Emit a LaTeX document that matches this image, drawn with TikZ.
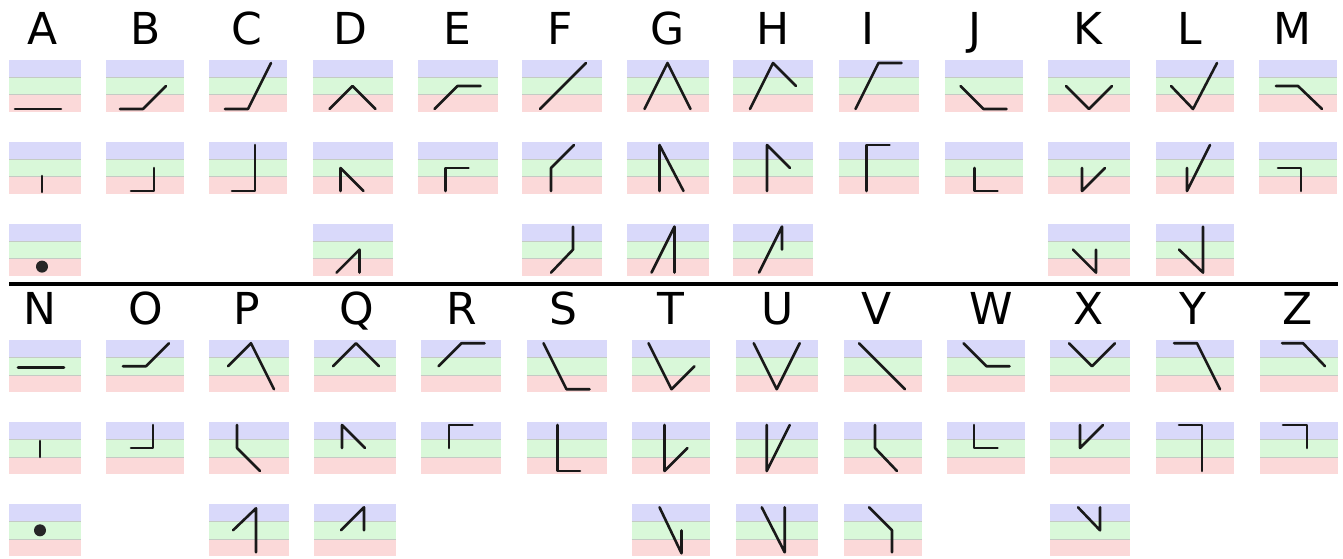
\documentclass[tikz,border=0pt]{standalone}
\usepackage{fontspec}
\newfontfamily\labelfont{DejaVu Sans}

\begin{document}
\begin{tikzpicture}[
    x={(1pt,0pt)}, y={(0pt,-1pt)},
    letter/.style={font=\labelfont\fontsize{44}{44}\selectfont, anchor=base, inner sep=0pt},
    glyph/.style={line width=2.6pt, line cap=round, line join=round, black!90},
    glyphdot/.style={fill=black!85},
  ]
    \definecolor{bandblue}{HTML}{D9D9FA}
    \definecolor{bandgreen}{HTML}{D9F8D9}
    \definecolor{bandred}{HTML}{FBD9D9}
    \definecolor{bandrule}{HTML}{C4CBC4}

    \useasboundingbox (0,0) rectangle (1343,558);

    % cell with three bands: center x, center y, half width
    \newcommand{\cellbg}[3]{%
      \begin{scope}[shift={(#1,#2)}]
        \fill[bandblue]  (-#3,-26) rectangle (#3,-8.7);
        \fill[bandgreen] (-#3,-8.7) rectangle (#3,8.7);
        \fill[bandred]   (-#3,8.7) rectangle (#3,26);
        \draw[bandrule, line width=0.8pt] (-#3,-8.7) -- (#3,-8.7) (-#3,8.7) -- (#3,8.7);
      \end{scope}
    }
    % one stroke glyph: center x, center y, path
    \newcommand{\penline}[3]{\draw[glyph, shift={(#1,#2)}] #3;}

    \def\ya{86}    \def\yb{168}   \def\yc{249.6}
    \def\yd{366.2} \def\ye{448}   \def\yf{530.3}

    % ============ top half: A to M ============
    \foreach \ch/\lx/\cx/\hw/\nr in {A/43/45/36/3, B/146/145/39/2, C/247/248/39/2,
        D/350/352.5/40/3, E/457/457.5/40/2, F/560/562/40/3, G/668/667.5/41/3,
        H/773/773/40/3, I/868/878.5/40/2, J/975/983.5/39/2, K/1088/1089/41/3,
        L/1190/1195/39/3, M/1292/1298/39/2}{
      \node[letter] (lbl\ch) at (\lx,44) {\ch};
      \foreach \r in {1,...,\nr}{
        \pgfmathsetmacro{\cy}{86+81.8*(\r-1)}
        \cellbg{\cx}{\cy}{\hw}
      }
    }

    \penline{45}{\ya}{(-30,23) -- (16,23)}
    \penline{45}{\yb}{(-3,8) -- (-3,24)}
    \fill[glyphdot, shift={(45,\yc)}] (-3,17) circle[radius=6];

    \penline{145}{\ya}{(-25,23) -- (-2,23) -- (21,0)}
    \penline{145}{\yb}{(-14,23) -- (9,23) -- (9,0)}

    \penline{248}{\ya}{(-23,23) -- (0,23) -- (23,-23)}
    \penline{248}{\yb}{(-16,23) -- (7,23) -- (7,-23)}

    \penline{352.5}{\ya}{(-23,23) -- (0,0) -- (23,23)}
    \penline{352.5}{\yb}{(-12,23) -- (-12,0) -- (11,23)}
    \penline{352.5}{\yc}{(-16,23) -- (7,0) -- (7,23)}

    \penline{457.5}{\ya}{(-23,23) -- (0,0) -- (23,0)}
    \penline{457.5}{\yb}{(-12,23) -- (-12,0) -- (11,0)}

    \penline{562}{\ya}{(-22,23) -- (24,-23)}
    \penline{562}{\yb}{(-11,23) -- (-11,0) -- (12,-23)}
    \penline{562}{\yc}{(-11,23) -- (11,0) -- (11,-23)}

    \penline{667.5}{\ya}{(-23,23) -- (0,-23) -- (23,23)}
    \penline{667.5}{\yb}{(-8,23) -- (-8,-23) -- (16,23)}
    \penline{667.5}{\yc}{(-16,23) -- (7,-23) -- (7,23)}

    \penline{773}{\ya}{(-23,23) -- (0,-23) -- (23,0)}
    \penline{773}{\yb}{(-6,23) -- (-6,-23) -- (17,0)}
    \penline{773}{\yc}{(-14,23) -- (9,-23) -- (9,0)}

    \penline{878.5}{\ya}{(-23,23) -- (0,-23) -- (23,-23)}
    \penline{878.5}{\yb}{(-12,23) -- (-12,-23) -- (11,-23)}

    \penline{983.5}{\ya}{(-23,0) -- (0,23) -- (23,23)}
    \penline{983.5}{\yb}{(-9,0) -- (-9,23) -- (14,23)}

    \penline{1089}{\ya}{(-23,0) -- (0,23) -- (23,0)}
    \penline{1089}{\yb}{(-7,0) -- (-7,23) -- (16,0)}
    \penline{1089}{\yc}{(-16,0) -- (7,23) -- (7,0)}

    \penline{1195}{\ya}{(-24,0) -- (-2,23) -- (22,-23)}
    \penline{1195}{\yb}{(-8,0) -- (-8,23) -- (15,-23)}
    \penline{1195}{\yc}{(-16,0) -- (8,23) -- (8,-23)}

    \penline{1298}{\ya}{(-22,0) -- (0,0) -- (24,23)}
    \penline{1298}{\yb}{(-20,0) -- (3,0) -- (3,23)}

    % separator
    \draw[line width=4.5pt] (9,284) -- (1338,284);

    % ============ bottom half: N to Z ============
    \foreach \ch/\lx/\cx/\hw/\nr in {N/40/45/36/3, O/146/145/39/2, P/247/249/40/3,
        Q/357/355/41/3, R/462/460.5/40/2, S/563/566.5/40/2, T/671/670.5/39/3,
        U/778/776.7/41/3, V/877/883/39/3, W/991/985.5/39/2, X/1089/1090/40/3,
        Y/1193/1195/39/2, Z/1298/1299/39/2}{
      \node[letter] (lbl\ch) at (\lx,324) {\ch};
      \foreach \r in {1,...,\nr}{
        \pgfmathsetmacro{\cy}{366.2+82*(\r-1)}
        \cellbg{\cx}{\cy}{\hw}
      }
    }

    \penline{45}{\yd}{(-27,1) -- (19,1)}
    \penline{45}{\ye}{(-5,-7) -- (-5,9)}
    \fill[glyphdot, shift={(45,\yf)}] (-5,0) circle[radius=6];

    \penline{145}{\yd}{(-22,0) -- (1,0) -- (24,-23)}
    \penline{145}{\ye}{(-14,0) -- (8,0) -- (8,-23)}

    \penline{249}{\yd}{(-21,0) -- (2,-23) -- (25,23)}
    \penline{249}{\ye}{(-12,-23) -- (-12,0) -- (11,23)}
    \penline{249}{\yf}{(-16,0) -- (7,-22) -- (7,22)}

    \penline{355}{\yd}{(-22,0) -- (1,-23) -- (24,0)}
    \penline{355}{\ye}{(-13,0) -- (-13,-23) -- (10,0)}
    \penline{355}{\yf}{(-14,0) -- (9,-23) -- (9,0)}

    \penline{460.5}{\yd}{(-22,0) -- (1,-23) -- (24,-23)}
    \penline{460.5}{\ye}{(-11.5,0) -- (-11.5,-23) -- (12,-23)}

    \penline{566.5}{\yd}{(-23,-23) -- (0,23) -- (23,23)}
    \penline{566.5}{\ye}{(-9,-23) -- (-9,23) -- (13.5,23)}

    \penline{670.5}{\yd}{(-22,-23) -- (1,23) -- (24,0)}
    \penline{670.5}{\ye}{(-6,-23) -- (-6,23) -- (17,0)}
    \penline{670.5}{\yf}{(-11,-23) -- (11,23) -- (11,0)}

    \penline{776.7}{\yd}{(-23,-23) -- (0,23) -- (23,-23)}
    \penline{776.7}{\ye}{(-10,-23) -- (-10,23) -- (13,-23)}
    \penline{776.7}{\yf}{(-15,-23) -- (8,22) -- (8,-23)}

    \penline{883}{\yd}{(-24,-23) -- (22,23)}
    \penline{883}{\ye}{(-8,-23) -- (-8,0) -- (14,23)}
    \penline{883}{\yf}{(-14,-23) -- (9,0) -- (9,22)}

    \penline{985.5}{\yd}{(-22,-23) -- (1,0) -- (24,0)}
    \penline{985.5}{\ye}{(-11.5,-23) -- (-11.5,0) -- (12,0)}

    \penline{1090}{\yd}{(-21,-23) -- (2,0) -- (25,-23)}
    \penline{1090}{\ye}{(-10,-23) -- (-10,0) -- (13,-23)}
    \penline{1090}{\yf}{(-12,-23) -- (10,0) -- (10,-23)}

    \penline{1195}{\yd}{(-21,-23) -- (2,-23) -- (25,23)}
    \penline{1195}{\ye}{(-16,-23) -- (7,-23) -- (7,23)}

    \penline{1299}{\yd}{(-17,-23) -- (4,-23) -- (26,0)}
    \penline{1299}{\ye}{(-16,-23) -- (8,-23) -- (8,0)}
  \end{tikzpicture}
\end{document}
